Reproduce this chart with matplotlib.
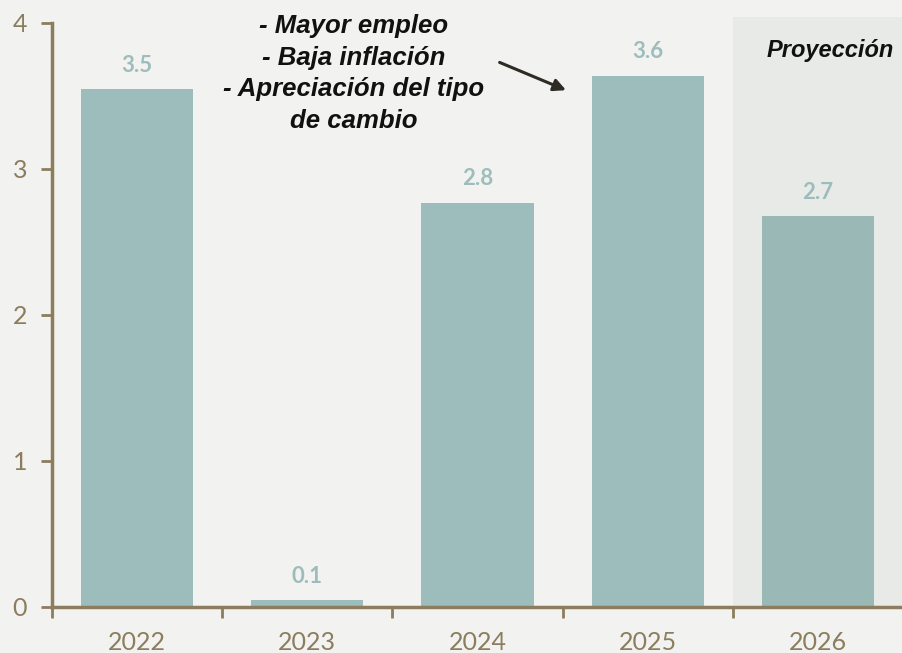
import matplotlib.pyplot as plt
from matplotlib.patches import Rectangle

# datos
years = ["2022", "2023", "2024", "2025", "2026"]
growth = [3.55, 0.05, 2.77, 3.64, 2.68]
labels = ["3.5", "0.1", "2.8", "3.6", "2.7"]
notes = "- Mayor empleo\n- Baja inflación\n- Apreciación del tipo\nde cambio"

bg = "#F2F2F0"
bar_color = "#9DBDBC"
axis_color = "#8B7D5E"
note_font = "Liberation Sans"

fig = plt.figure(figsize=(9.03, 6.53), dpi=100, facecolor=bg)
ax = fig.add_axes([52 / 903, 46 / 653, 851 / 903, 590 / 653])
ax.set_facecolor(bg)

x = list(range(len(years)))
ax.set_xlim(-0.5, 4.5)
ax.set_ylim(0, 590 / 146)

# zona de proyección
ax.add_patch(Rectangle((3.5, 0), 1.0, 590 / 146, facecolor="#E8EAE7",
                       edgecolor="none", zorder=0))

colors = [bar_color] * 4 + ["#99B8B6"]
ax.bar(x, growth, width=0.66, color=colors, zorder=2)

for xi, v, lab in zip(x, growth, labels):
    ax.text(xi, v + 0.09, lab, ha="center", va="bottom", color=bar_color,
            fontsize=16, fontweight="bold", family="Lato", zorder=3)

ax.text(4.07, 3.81, "Proyección", ha="center", va="center", fontsize=17,
        fontweight="bold", style="italic", family=note_font, color="#111111")

ax.text(1.27, 3.655, notes, ha="center", va="center", fontsize=18.5,
        fontweight="bold", style="italic", family=note_font, color="#111111",
        linespacing=1.4)
ax.annotate("", xy=(2.52, 3.54), xytext=(2.13, 3.73),
            arrowprops=dict(arrowstyle="-|>", color="#2E2A24", lw=2.2,
                            mutation_scale=18, shrinkA=0, shrinkB=0))

for s in ["top", "right"]:
    ax.spines[s].set_visible(False)
for s in ["left", "bottom"]:
    ax.spines[s].set_color(axis_color)
    ax.spines[s].set_linewidth(2.5)
ax.spines["left"].set_bounds(0, 4)

ax.set_yticks([0, 1, 2, 3, 4])
ax.set_xticks([-0.5, 0.5, 1.5, 2.5, 3.5])
ax.set_xticklabels([])
ax.set_xticks(x, minor=True)
ax.set_xticklabels(years, minor=True)
ax.tick_params(axis="x", which="major", length=8, width=2, color=axis_color,
               direction="out")
ax.tick_params(axis="x", which="minor", length=0, pad=17, labelsize=18,
               labelcolor=axis_color)
ax.tick_params(axis="y", length=8, width=2, color=axis_color, pad=10,
               labelsize=18, labelcolor=axis_color)
for t in ax.get_xticklabels(minor=True) + ax.get_yticklabels():
    t.set_family("Lato")

fig.savefig("out.png", dpi=100, facecolor=bg)
